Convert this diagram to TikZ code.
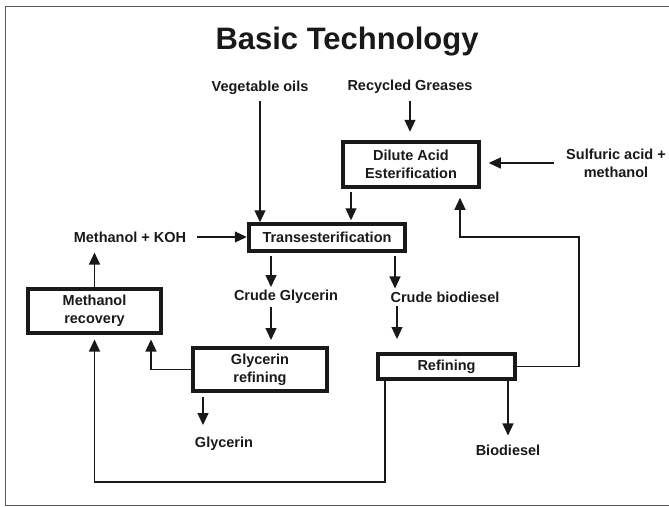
\documentclass[tikz,border=0pt]{standalone}
\usepackage{fontspec}
\setmainfont{Liberation Sans}
\usetikzlibrary{arrows.meta}
\begin{document}
\begin{tikzpicture}[x=1pt,y=-1pt,
        procbox/.style={draw, line width=4pt, inner sep=0pt, align=center,
            font=\bfseries\fontsize{14.5}{18}\selectfont},
        lbl/.style={inner sep=0pt, align=center, font=\bfseries\fontsize{14.5}{18}\selectfont},
        flow/.style={line width=1.2pt, -{Triangle[length=12pt,width=11pt]}}]
        \useasboundingbox (0,0) rectangle (669,506);
        \draw[black!65, line width=1pt] (5.5,6) rectangle (680,505);

        \begin{scope}[black!90, text=black!90]
        \node[font=\bfseries\fontsize{31}{36}\selectfont] (title) at (347,42) {Basic Technology};

        % boxes
        \node[procbox, minimum width=135.5pt, minimum height=45.5pt] (dilute) at (411,164.5) {Dilute Acid\\Esterification};
        \node[procbox, minimum width=156.5pt, minimum height=26.5pt] (trans) at (327,237.5) {Transesterification};
        \node[procbox, minimum width=133pt, minimum height=44pt] (methrec) at (94.5,311) {Methanol\\recovery};
        \node[procbox, minimum width=134pt, minimum height=43pt] (glyref) at (260,369.5) {Glycerin\\refining};
        \node[procbox, minimum width=137pt, minimum height=25pt] (refin) at (446.5,366.5) {Refining};

        % streams
        \node[lbl] (veg) at (260,88) {Vegetable oils};
        \node[lbl] (grease) at (410,87) {Recycled Greases};
        \node[lbl] (acid) at (616,163) {Sulfuric acid +\\methanol};
        \node[lbl] (meth) at (130,237) {Methanol + KOH};
        \node[lbl] (cglyc) at (286,297) {Crude Glycerin};
        \node[lbl] (cbio) at (445,297) {Crude biodiesel};
        \node[lbl] (glyc) at (224,444) {Glycerin};
        \node[lbl] (biod) at (508,450) {Biodiesel};

        \coordinate (d2t) at (351,0);
        \coordinate (rtop) at (579,237);
        \coordinate (loop) at (385,482);

        \draw[flow, shorten <=6pt] (veg.south) -- (veg.south |- trans.north);
        \draw[flow, shorten <=7pt, shorten >=8pt] (grease.south) -- (grease.south |- dilute.north);
        \draw[flow, shorten <=12pt, shorten >=8pt] (acid.west) -- (acid.west -| dilute.east);
        \draw[flow, shorten <=3pt, shorten >=2pt] (d2t |- dilute.south) -- (d2t |- trans.north);
        \draw[flow, shorten <=11pt] (meth.east) -- (meth.east -| trans.west);
        \draw[flow, shorten <=-4pt, shorten >=10pt] (methrec.north) -- (methrec.north |- meth.south);
        \draw[flow, shorten <=3pt, shorten >=3pt] ([xshift=-56pt]trans.south) -- ([xshift=-56pt]trans.south |- cglyc.north);
        \draw[flow, shorten <=3pt, shorten >=3pt] ([xshift=68pt]trans.south) -- ([xshift=68pt]trans.south |- cbio.north);
        \draw[flow, shorten <=3pt, shorten >=6pt] ([xshift=11pt]glyref.north |- cglyc.south) -- ([xshift=11pt]glyref.north);
        \draw[flow, shorten <=3pt, shorten >=13pt] ([xshift=-49.5pt]refin.north |- cbio.south) -- ([xshift=-49.5pt]refin.north);
        \draw[flow, shorten >=4.5pt] (glyref.west) -| ([xshift=56.5pt]methrec.south);
        \draw[flow, shorten <=4pt, shorten >=12pt] ([xshift=-57pt]glyref.south) -- ([xshift=-57pt]glyref.south |- glyc.north);
        \draw[flow, shorten >=9pt] (biod.north |- refin.south) -- (biod.north);
        \draw[flow, shorten >=8.5pt] (refin.east) -| (rtop) -| ([xshift=49pt]dilute.south);
        \draw[flow, shorten >=4.5pt] (loop |- refin.south) -- (loop) -| (methrec.south);
        \end{scope}
    \end{tikzpicture}
\end{document}
